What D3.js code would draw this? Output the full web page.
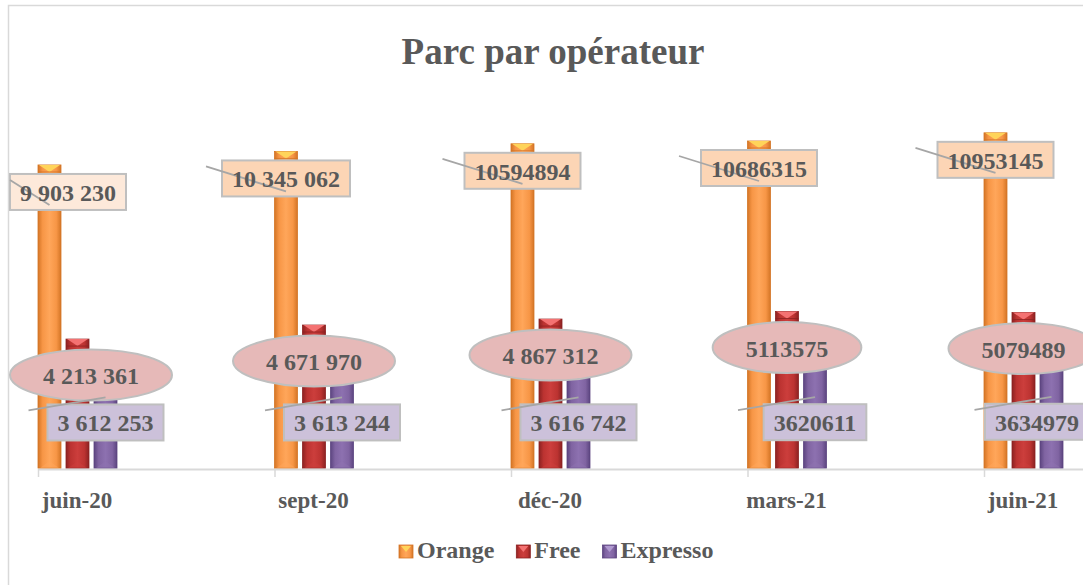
<!DOCTYPE html>
<html>
<head>
<meta charset="utf-8">
<script src="https://cdn.jsdelivr.net/npm/d3@7"></script>
<style>
  body { margin: 0; background: #fff; }
  text { font-family: "Liberation Serif", "Times New Roman", serif; font-weight: bold; fill: #595959; }
</style>
</head>
<body>
<svg id="chart"></svg>
<script>
// data
const categories = ["juin-20", "sept-20", "déc-20", "mars-21", "juin-21"];
const seriesNames = ["Orange", "Free", "Expresso"];
const orange = [9903230, 10345062, 10594894, 10686315, 10953145];
const free = [4213361, 4671970, 4867312, 5113575, 5079489];
const expresso = [3612253, 3613244, 3616742, 3620611, 3634979];
const orangeLabels = ["9 903 230", "10 345 062", "10594894", "10686315", "10953145"];
const freeLabels = ["4 213 361", "4 671 970", "4 867 312", "5113575", "5079489"];
const expressoLabels = ["3 612 253", "3 613 244", "3 616 742", "3620611", "3634979"];

const width = 1083, height = 585;
const svg = d3.select("#chart").attr("width", width).attr("height", height);

// colours per series: edge, base, highlight, cap
const colors = {
  Orange: ["#D47526", "#F79646", "#FFA65A", "#FFD45A"],
  Free: ["#8C2222", "#BC3331", "#CC3E3C", "#F47272"],
  Expresso: ["#5C4580", "#8064A2", "#8D71B0", "#B09AD0"]
};

const defs = svg.append("defs");
seriesNames.forEach(function (s) {
  const g = defs.append("linearGradient").attr("id", "grad-" + s)
    .attr("x1", "0%").attr("x2", "100%").attr("y1", "0%").attr("y2", "0%");
  const c = colors[s];
  [[0, c[0]], [0.2, c[1]], [0.5, c[2]], [0.8, c[1]], [1, c[0]]].forEach(function (st) {
    g.append("stop").attr("offset", st[0]).attr("stop-color", st[1]);
  });
});

// chart frame
svg.append("rect")
  .attr("x", 8.5).attr("y", 5.5).attr("width", 1100).attr("height", 600)
  .attr("fill", "#fff").attr("stroke", "#D9D9D9").attr("stroke-width", 1.5);

svg.append("text")
  .attr("x", 553).attr("y", 64)
  .attr("text-anchor", "middle")
  .style("font-size", "37px")
  .text("Parc par opérateur");

// scales
const x = d3.scaleBand().domain(categories).range([38, 38 + 5 * 236.5]);
const inner = d3.scaleBand().domain(seriesNames).range([0, 79]).paddingInner(5 / 28);
const y = d3.scaleLinear().domain([0, 12000000]).range([468, 468 - 12 * 30.6]);

// axis line + ticks
svg.append("line")
  .attr("x1", 38).attr("x2", width).attr("y1", 469.5).attr("y2", 469.5)
  .attr("stroke", "#D9D9D9").attr("stroke-width", 2);
svg.selectAll(".tick")
  .data(categories)
  .join("line")
  .attr("x1", d => x(d) + 0.5).attr("x2", d => x(d) + 0.5)
  .attr("y1", 469).attr("y2", 477)
  .attr("stroke", "#D9D9D9").attr("stroke-width", 1.5);

svg.selectAll(".cat")
  .data(categories)
  .join("text")
  .attr("x", d => x(d) + 39)
  .attr("y", 508)
  .attr("text-anchor", "middle")
  .style("font-size", "23px")
  .text(d => d);

// bars
const seriesData = { Orange: orange, Free: free, Expresso: expresso };
const bw = inner.bandwidth();
seriesNames.forEach(function (s) {
  const vals = seriesData[s];
  const g = svg.append("g");
  g.selectAll("rect")
    .data(vals)
    .join("rect")
    .attr("x", (d, i) => x(categories[i]) + inner(s))
    .attr("y", d => y(d))
    .attr("width", bw)
    .attr("height", d => y(0) - y(d))
    .attr("fill", "url(#grad-" + s + ")")
    .attr("stroke", colors[s][0])
    .attr("stroke-width", 0.8);
  // bevelled top
  g.selectAll("path.cap")
    .data(vals)
    .join("path")
    .attr("d", function (d, i) {
      const x0 = x(categories[i]) + inner(s), y0 = y(d);
      return "M" + (x0 + 1) + "," + y0 + "L" + (x0 + bw - 1) + "," + y0 +
        "L" + (x0 + bw / 2) + "," + (y0 + 7) + "Z";
    })
    .attr("fill", colors[s][3]);
  g.selectAll("line.capline")
    .data(vals)
    .join("line")
    .attr("x1", (d, i) => x(categories[i]) + inner(s))
    .attr("x2", (d, i) => x(categories[i]) + inner(s) + bw)
    .attr("y1", d => y(d) + 7).attr("y2", d => y(d) + 7)
    .attr("stroke", colors[s][0]).attr("stroke-width", 0.8);
  // faint bottom bevel
  g.selectAll("path.bot")
    .data(vals)
    .join("path")
    .attr("d", function (d, i) {
      const x0 = x(categories[i]) + inner(s), y0 = y(0);
      return "M" + (x0 + 2) + "," + y0 + "L" + (x0 + bw - 2) + "," + y0 +
        "L" + (x0 + bw / 2) + "," + (y0 - 7) + "Z";
    })
    .attr("fill", colors[s][2]).attr("opacity", 0.5);
});

const labelG = svg.append("g");
const cx = (s, i) => x(categories[i]) + inner(s) + bw / 2;

function boxLabel(s, vals, labels, fills, dy, lead) {
  labels.forEach(function (lab, i) {
    const bx = cx(s, i), top = y(vals[i]);
    const t = labelG.append("text")
      .attr("text-anchor", "middle")
      .attr("dominant-baseline", "central")
      .style("font-size", "24px")
      .text(lab);
    const tw = t.node().getComputedTextLength();
    const w = tw + 20;
    // keep label inside the chart area (text must stay readable)
    let left = Math.max(10, bx - w / 2);
    left = Math.min(left, width - 14 - tw);
    const cy = top + dy;
    labelG.insert("rect", "text")
      .attr("x", left).attr("y", cy - 18)
      .attr("width", w).attr("height", 36)
      .attr("fill", fills[i]).attr("stroke", "#BFBFBF").attr("stroke-width", 2);
    t.attr("x", left + w / 2).attr("y", cy + 1).raise();
    labelG.insert("line", "text")
      .attr("x1", Math.max(10, bx + lead[0])).attr("y1", top + lead[1])
      .attr("x2", bx + lead[2]).attr("y2", top + lead[3])
      .attr("stroke", "#A6A6A6").attr("stroke-width", 1.8);
  });
}

// Orange labels
boxLabel("Orange", orange, orangeLabels,
  ["#FDE9DA", "#FCD5B5", "#FCD5B5", "#FCD5B5", "#FCD5B5"], 27, [-80, 15, 0, 40]);

// Free labels (ellipses)
freeLabels.forEach(function (lab, i) {
  const bx = cx("Free", i), cy = y(free[i]) + 36;
  const t = labelG.append("text")
    .attr("text-anchor", "middle")
    .attr("dominant-baseline", "central")
    .style("font-size", "24px")
    .text(lab);
  const rx = t.node().getComputedTextLength() / 2 + 33;
  const ex = Math.max(10 + rx, bx);
  labelG.insert("ellipse", "text")
    .attr("cx", ex).attr("cy", cy).attr("rx", rx).attr("ry", 25.5)
    .attr("fill", "#E6B9B8").attr("stroke", "#BFBFBF").attr("stroke-width", 2);
  t.attr("x", ex).attr("y", cy + 1);
});

// Expresso labels
boxLabel("Expresso", expresso, expressoLabels,
  ["#CCC1DA", "#CCC1DA", "#CCC1DA", "#CCC1DA", "#CCC1DA"], 65, [-77, 53, 0, 40]);

// legend
let lx = 399;
seriesNames.forEach(function (s) {
  const c = colors[s];
  svg.append("rect")
    .attr("x", lx).attr("y", 545).attr("width", 14).attr("height", 13)
    .attr("fill", "url(#grad-" + s + ")").attr("stroke", c[0]).attr("stroke-width", 0.8);
  svg.append("path")
    .attr("d", "M" + (lx + 2) + ",546L" + (lx + 12) + ",546L" + (lx + 7) + ",552Z")
    .attr("fill", c[3]);
  const t = svg.append("text")
    .attr("x", lx + 18).attr("y", 558)
    .style("font-size", "24px")
    .text(s);
  lx += 18 + t.node().getComputedTextLength() + 22;
});
</script>
</body>
</html>
